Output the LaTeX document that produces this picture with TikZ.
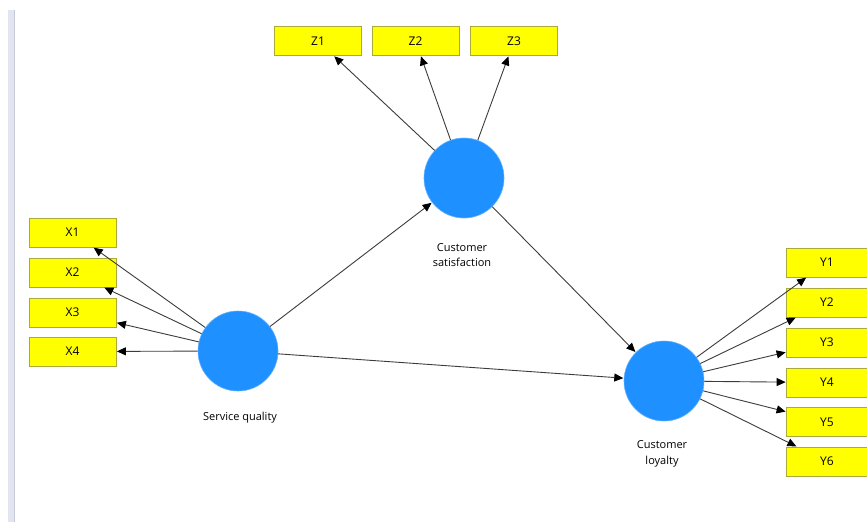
\documentclass[tikz,border=0pt]{standalone}
\usepackage{fontspec}
\setmainfont{Open Sans}
\usetikzlibrary{arrows.meta}
\definecolor{lvblue}{RGB}{30,144,255}
\definecolor{mvyellow}{RGB}{255,255,0}
\definecolor{mvborder}{RGB}{170,170,60}
\definecolor{barfill}{RGB}{226,229,241}
\definecolor{barline}{RGB}{200,203,214}
\definecolor{linkcol}{RGB}{60,60,60}
\tikzset{
  mv/.style={draw=mvborder, line width=0.8pt, fill=mvyellow, minimum width=87pt, minimum height=29pt, inner sep=0pt, font=\fontsize{12}{14}\selectfont},
  mvr/.style={mv, minimum width=81pt},
  lv/.style={circle, fill=lvblue, draw=lvblue!70!white, line width=0.6pt, minimum size=80pt, inner sep=0pt},
  lvlabel/.style={font=\fontsize{11}{15.5}\selectfont, align=center},
  link/.style={draw=linkcol, line width=0.9pt, -{Triangle[length=9pt,width=8pt,color=black]}, shorten >=0.5pt}
}
\begin{document}
\begin{tikzpicture}[x=1pt,y=-1pt]
\useasboundingbox (0,0) rectangle (867,522);
\fill[white] (0,0) rectangle (867,522);
% left window bar
\fill[barfill] (8,10) rectangle (15,522);
\draw[barline, line width=0.8pt] (14.5,10) -- (14.5,522);

% latent variables
\node[lv] (SQ) at (238,351) {};
\node[lv] (CS) at (464,178) {};
\node[lv] (CL) at (664,381) {};
\node[lvlabel] (SQl) at (240,418) {Service quality};
\node[lvlabel] (CSl) at (462,255) {Customer\\satisfaction};
\node[lvlabel] (CLl) at (662,454) {Customer\\loyalty};

% indicators
\node[mv] (X1) at (72.5,232.5) {X1};
\node[mv] (X2) at (72.5,272.5) {X2};
\node[mv] (X3) at (72.5,312.5) {X3};
\node[mv] (X4) at (72.5,351.5) {X4};

\node[mv] (Z1) at (318,41) {Z1};
\node[mv] (Z2) at (415.5,41) {Z2};
\node[mv] (Z3) at (514,41) {Z3};

\node[mvr] (Y1) at (827,262.5) {Y1};
\node[mvr] (Y2) at (827,302.5) {Y2};
\node[mvr] (Y3) at (827,342.5) {Y3};
\node[mvr] (Y4) at (827,382.5) {Y4};
\node[mvr] (Y5) at (827,422) {Y5};
\node[mvr] (Y6) at (827,461.5) {Y6};

% structural paths
\draw[link] (SQ) -- (CS);
\draw[link] (SQ) -- (CL);
\draw[link] (CS) -- (CL);

% measurement paths
\foreach \i in {1,2,3,4} { \draw[link] (SQ) -- (X\i); }
\foreach \i in {1,2,3} { \draw[link] (CS) -- (Z\i); }
\foreach \i in {1,2,3,4,5,6} { \draw[link] (CL) -- (Y\i); }
\end{tikzpicture}
\end{document}
